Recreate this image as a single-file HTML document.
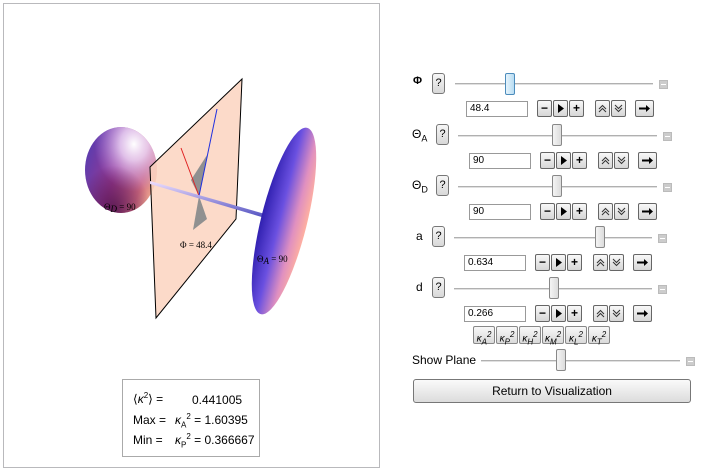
<!DOCTYPE html>
<html><head><meta charset="utf-8">
<style>
body{margin:0;width:701px;height:471px;background:#fff;position:relative;overflow:hidden;font-family:"Liberation Sans",sans-serif;font-size:12px;color:#000}
.abs{position:absolute}
.q{position:absolute;width:11px;height:19px;border:1px solid #777;border-radius:3px;background:linear-gradient(#f6f6f6,#d8d8d8);font-size:11px;text-align:center;line-height:19px}
.track{position:absolute;height:1px;background:#b0b0b0;border-bottom:1px solid #e0e0e0}
.thumb{position:absolute;width:8px;height:20px;border:1px solid #888;border-radius:2px;background:linear-gradient(90deg,#f4f4f4,#dcdcdc)}
.mini{position:absolute;width:7px;height:7px;background:#ccc;border:1px solid #bbb}
.mini::after{content:"";position:absolute;left:1px;right:1px;top:3px;height:1px;background:#fff}
.field{position:absolute;width:57px;height:14px;border:1px solid #999;background:#fff;font-size:10px;line-height:14px;padding-left:3px;box-sizing:content-box}
.b{position:absolute;width:13px;height:15px;border:1px solid #666;border-radius:2px;background:linear-gradient(#f8f8f8,#d6d6d6);font-size:12px;font-weight:bold;line-height:15px;text-align:center}
.b svg{position:absolute;left:2px;top:2px}
.lbl{position:absolute;font-size:12px}
.kb{position:absolute;top:326px;height:16px;width:20px;border:1px solid #888;border-radius:2px;background:linear-gradient(#f8f8f8,#dadada);font-size:10px;font-style:italic;line-height:16px;text-align:center}
.kb sub,.kb sup{font-size:8px}
</style></head><body>
<div class="abs" style="left:3px;top:3px;width:375px;height:463px;border:1px solid #b9b9bc"></div>
<svg class="abs" style="left:0;top:0" width="380" height="340">
<defs>
<linearGradient id="gD0" x1="0" y1="0.3" x2="1" y2="0.7">
<stop offset="0" stop-color="#5a3cb0"/><stop offset="0.45" stop-color="#9a3a90"/><stop offset="0.8" stop-color="#d06a80"/><stop offset="1" stop-color="#f0b090"/></linearGradient>
<radialGradient id="gD1" cx="0.68" cy="0.2" r="0.55">
<stop offset="0" stop-color="#ffffff" stop-opacity="1"/><stop offset="0.35" stop-color="#f0e0ff" stop-opacity="0.8"/><stop offset="1" stop-color="#c0a0ff" stop-opacity="0"/></radialGradient>
<radialGradient id="gD2" cx="0.4" cy="0.95" r="0.5">
<stop offset="0" stop-color="#400a40" stop-opacity="0.7"/><stop offset="1" stop-color="#400a40" stop-opacity="0"/></radialGradient>
<linearGradient id="gA" x1="0" y1="0" x2="1" y2="0">
<stop offset="0" stop-color="#3020b0"/><stop offset="0.4" stop-color="#6a50e0"/><stop offset="0.75" stop-color="#e090c0"/><stop offset="1" stop-color="#ffb0a0"/></linearGradient>
<linearGradient id="gR" x1="0" y1="0" x2="0" y2="1"><stop offset="0" stop-color="#f0e0ff"/><stop offset="1" stop-color="#5050c0"/></linearGradient>
</defs>
<ellipse cx="121" cy="170" rx="36" ry="43" fill="url(#gD0)"/>
<ellipse cx="121" cy="170" rx="36" ry="43" fill="url(#gD1)"/>
<ellipse cx="121" cy="170" rx="36" ry="43" fill="url(#gD2)"/>
<polygon points="150,167 242,79 236,219 156,318" fill="#fbd3c0" fill-opacity="0.85" stroke="#000" stroke-width="1"/>
<polygon points="207,155 191,180 199,196 203,178" fill="#909090"/>
<polygon points="199,196 193,230 207,219" fill="#909090"/>
<line x1="181" y1="148" x2="199" y2="196" stroke="#e02020" stroke-width="1"/>
<line x1="217" y1="109" x2="199" y2="196" stroke="#2030e0" stroke-width="1"/>
<polygon points="150,181 265,214 265,218 150,184" fill="url(#gR)"/>
<ellipse cx="284" cy="221" rx="23" ry="96" transform="rotate(14 284 221)" fill="url(#gA)"/>
<text x="104" y="210" font-family="Liberation Serif,serif" font-size="9">Θ<tspan font-style="italic" dy="2">D</tspan><tspan dy="-2"> = 90</tspan></text>
<text x="180" y="248" font-family="Liberation Serif,serif" font-size="9">Φ = 48.4</text>
<text x="257" y="262" font-family="Liberation Serif,serif" font-size="9">Θ<tspan font-style="italic" dy="2">A</tspan><tspan dy="-2"> = 90</tspan></text>
</svg>
<div class="abs" style="left:122px;top:379px;width:136px;height:76px;border:1px solid #aaa;font-size:12px">
<div class="abs" style="left:10px;top:11px">⟨<i>κ</i><sup style="font-size:8px">2</sup>⟩ =</div><div class="abs" style="left:69px;top:13px">0.441005</div>
<div class="abs" style="left:10px;top:33px">Max =</div><div class="abs" style="left:52px;top:32px"><i>κ</i><sub style="font-size:8px">A</sub><sup style="font-size:8px">2</sup> = 1.60395</div>
<div class="abs" style="left:10px;top:53px">Min =</div><div class="abs" style="left:52px;top:52px"><i>κ</i><sub style="font-size:8px">P</sub><sup style="font-size:8px">2</sup> = 0.366667</div>
</div>

<script>
function btns(x,y){
  var h='<div class="b" style="left:'+x+'px;top:'+y+'px">−</div>'+
  '<div class="b" style="left:'+(x+16)+'px;top:'+y+'px"><svg width="9" height="11"><polygon points="2,1 8,5.5 2,10" fill="#000"/></svg></div>'+
  '<div class="b" style="left:'+(x+32)+'px;top:'+y+'px">+</div>'+
  '<div class="b" style="left:'+(x+58)+'px;top:'+y+'px"><svg width="9" height="11"><polyline points="1,6 4.5,2.5 8,6" fill="none" stroke="#333"/><polyline points="1,9 4.5,5.5 8,9" fill="none" stroke="#333"/></svg></div>'+
  '<div class="b" style="left:'+(x+74)+'px;top:'+y+'px"><svg width="9" height="11"><polyline points="1,2 4.5,5.5 8,2" fill="none" stroke="#333"/><polyline points="1,5 4.5,8.5 8,5" fill="none" stroke="#333"/></svg></div>'+
  '<div class="b" style="left:'+(x+98)+'px;top:'+y+'px;width:17px"><svg width="13" height="11"><line x1="1" y1="5.5" x2="10" y2="5.5" stroke="#000" stroke-width="2"/><polygon points="8,2 12,5.5 8,9" fill="#000"/></svg></div>';
  document.write(h);
}
</script>
<!-- Phi -->
<div class="lbl" style="left:413px;top:75px;font-size:11px;font-weight:bold">Φ</div>
<div class="q" style="left:432px;top:73px">?</div>
<div class="track" style="left:455px;top:83px;width:198px"></div>
<div class="thumb" style="left:505px;top:73px;background:linear-gradient(90deg,#e6f4fc,#b8dcf2);border-color:#4c8cbc"></div>
<div class="mini" style="left:659px;top:80px"></div>
<div class="field" style="left:466px;top:101px">48.4</div>
<script>btns(537,100)</script>
<!-- ThetaA -->
<div class="lbl" style="left:412px;top:127px">Θ<sub style="font-size:9px">A</sub></div>
<div class="q" style="left:436px;top:124px">?</div>
<div class="track" style="left:458px;top:135px;width:199px"></div>
<div class="thumb" style="left:552px;top:124px"></div>
<div class="mini" style="left:663px;top:132px"></div>
<div class="field" style="left:469px;top:153px">90</div>
<script>btns(540,152)</script>
<!-- ThetaD -->
<div class="lbl" style="left:412px;top:178px">Θ<sub style="font-size:9px">D</sub></div>
<div class="q" style="left:436px;top:175px">?</div>
<div class="track" style="left:458px;top:186px;width:199px"></div>
<div class="thumb" style="left:552px;top:175px"></div>
<div class="mini" style="left:663px;top:183px"></div>
<div class="field" style="left:469px;top:204px">90</div>
<script>btns(540,203)</script>
<!-- a -->
<div class="lbl" style="left:416px;top:229px">a</div>
<div class="q" style="left:432px;top:226px">?</div>
<div class="track" style="left:454px;top:237px;width:198px"></div>
<div class="thumb" style="left:595px;top:226px"></div>
<div class="mini" style="left:658px;top:234px"></div>
<div class="field" style="left:464px;top:255px">0.634</div>
<script>btns(535,254)</script>
<!-- d -->
<div class="lbl" style="left:416px;top:280px">d</div>
<div class="q" style="left:432px;top:277px">?</div>
<div class="track" style="left:454px;top:288px;width:198px"></div>
<div class="thumb" style="left:549px;top:277px"></div>
<div class="mini" style="left:658px;top:285px"></div>
<div class="field" style="left:464px;top:306px">0.266</div>
<script>btns(535,305)</script>
<!-- kappa buttons -->
<div class="kb" style="left:473px">κ<sub>A</sub><sup>2</sup></div>
<div class="kb" style="left:496px">κ<sub>P</sub><sup>2</sup></div>
<div class="kb" style="left:519px">κ<sub>H</sub><sup>2</sup></div>
<div class="kb" style="left:542px">κ<sub>M</sub><sup>2</sup></div>
<div class="kb" style="left:565px">κ<sub>L</sub><sup>2</sup></div>
<div class="kb" style="left:588px">κ<sub>T</sub><sup>2</sup></div>
<!-- show plane -->
<div class="lbl" style="left:412px;top:353px">Show Plane</div>
<div class="track" style="left:481px;top:360px;width:199px"></div>
<div class="thumb" style="left:556px;top:349px"></div>
<div class="mini" style="left:686px;top:357px"></div>
<div class="abs" style="left:413px;top:379px;width:276px;height:22px;border:1px solid #777;border-radius:3px;background:linear-gradient(#fafafa,#dcdcdc);text-align:center;line-height:22px;font-size:12px">Return to Visualization</div>
</body></html>
